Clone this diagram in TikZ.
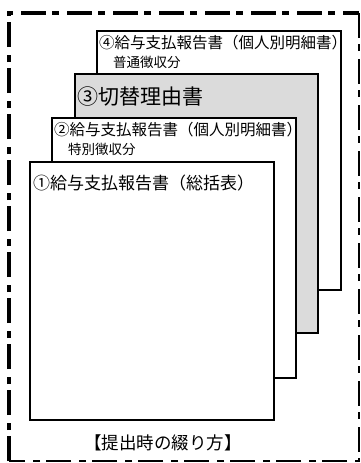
\documentclass[tikz,border=0pt]{standalone}
\usepackage{fontspec}
\setmainfont{Noto Sans CJK JP}
\begin{document}
\begin{tikzpicture}[x=1pt,y=-1pt,
  sheet/.style={draw=black,line width=2pt,fill=white},
  lbl/.style={anchor=west,inner sep=0pt,font=\fontsize{15.5}{17}\selectfont},
  sublbl/.style={anchor=west,inner sep=0pt,font=\fontsize{13.5}{15}\selectfont},
  thickdash/.style={line width=3.8pt,dash pattern=on 25pt off 6pt on 7pt off 8pt},
  thindash/.style={line width=1.5pt,dash pattern=on 25pt off 6pt on 7pt off 8pt}]
\useasboundingbox (0,0) rectangle (360,463);
% outer frame
\coordinate (tl) at (9,13);
\coordinate (tr) at (359,13);
\coordinate (bl) at (9,461);
\coordinate (br) at (359,461);
\draw[thickdash] (bl) -- (tl) -- (tr);
\draw[thindash] (tr) -- (br) -- (bl);
% sheets
\draw[sheet] (97,31) rectangle (341,290);
\node[lbl] (t4a) at (99,43) {④給与支払報告書（個人別明細書）};
\node[sublbl] (t4b) at (113,62) {普通徴収分};
\draw[sheet,fill=black!14] (75,74) rectangle (318,333);
\node[lbl,font=\fontsize{21}{23}\selectfont] (t3) at (77,97) {③切替理由書};
\draw[sheet] (52,118) rectangle (296,378);
\node[lbl] (t2a) at (54,130) {②給与支払報告書（個人別明細書）};
\node[sublbl] (t2b) at (68,149) {特別徴収分};
\draw[sheet] (30,162) rectangle (274,420);
\node[lbl,font=\fontsize{17}{19}\selectfont] (t1) at (33,183) {①給与支払報告書（総括表）};
\node[inner sep=0pt,font=\fontsize{17.5}{19}\selectfont] (cap) at (163,443) {【提出時の綴り方】};
\end{tikzpicture}
\end{document}
